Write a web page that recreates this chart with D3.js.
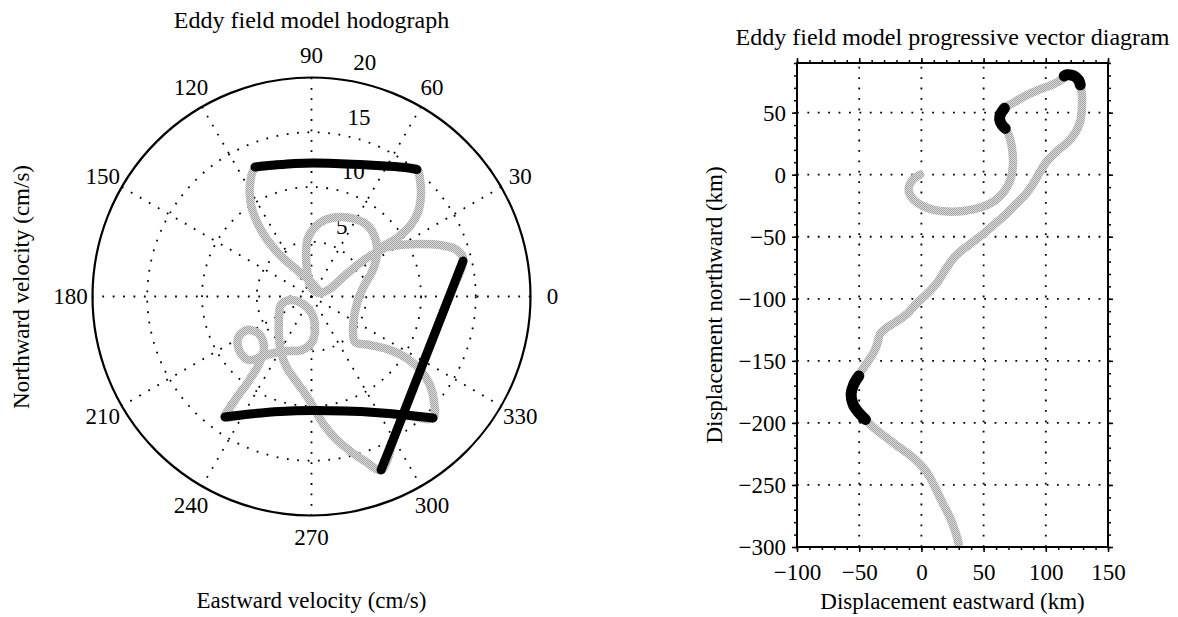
<!DOCTYPE html>
<html>
<head>
<meta charset="utf-8">
<script src="https://cdn.jsdelivr.net/npm/d3@7"></script>
<style>
  body { margin: 0; background: #fff; }
  text { font-family: "Liberation Serif", "Times New Roman", Times, serif; fill: #000; }
</style>
</head>
<body>
<svg id="fig" width="1178" height="617"></svg>
<script>
// ---------- Hodograph: eastward u, northward v (cm/s) ----------
const hodoTrack = [
  [0.59,0.59],[-0.14,1.42],[-1.32,2.42],[-2.88,3.79],[-4.16,5.34],[-4.98,6.80],[-5.52,8.36],[-5.62,10.18],
  [-5.16,11.73],[-3.33,12.01],[-1.51,12.15],[0.14,12.19],[2.15,12.15],[4.43,12.05],[6.71,11.92],[8.54,11.78],[9.63,11.64],
  [9.91,10.64],[10.0,9.27],[9.73,7.72],[9.0,6.44],[7.81,5.34],[6.53,4.52],
  [8.08,4.70],[9.91,4.79],[11.73,4.70],[13.1,4.34],[13.84,3.52],
  [12.56,-0.05],[11.28,-3.33],[10.09,-6.35],[8.81,-9.63],[7.63,-12.65],[6.35,-15.84],
  [4.98,-15.11],[3.52,-14.11],[2.24,-13.01],[1.14,-11.73],[0.32,-10.36],[-0.50,-8.99],[-1.42,-7.72],[-2.24,-6.53],
  [-2.79,-5.07],[-2.97,-3.52],[-2.97,-1.96],[-2.79,-0.78],[-1.96,-0.32],[-0.78,-0.68],[0.05,-1.60],[0.32,-2.88],
  [0.05,-4.16],[-0.87,-4.89],[-2.15,-4.98],[-3.42,-5.16],[-4.61,-5.52],[-5.71,-5.80],[-6.53,-5.07],[-6.71,-3.79],
  [-5.89,-3.06],[-4.79,-3.42],[-4.34,-4.70],[-4.89,-6.35],[-5.80,-7.81],[-6.80,-9.18],[-7.53,-10.27],[-7.90,-11.0],
  [-5.62,-10.73],[-2.88,-10.50],[0.14,-10.41],[3.06,-10.46],[5.80,-10.59],[8.54,-10.82],[11.10,-11.10],
  [11.19,-9.63],[10.82,-8.08],[10.0,-6.80],[8.81,-5.71],[7.17,-4.89],[5.34,-4.43],[3.97,-4.16],
  [3.79,-3.06],[3.97,-1.42],[4.34,-0.05],[4.89,1.14],[5.52,2.24],[5.89,3.33],[5.98,4.52],[5.71,5.62],
  [5.07,6.53],[3.97,7.08],[2.60,7.26],[1.23,6.99],[0.32,6.35],[-0.32,5.34],[-0.50,3.97],[-0.41,2.42],[-0.14,1.05],
  [0.59,0.32],[1.51,0.59],[2.60,1.51],[3.97,2.69],[5.34,3.70],[6.53,4.34]
];
// highlighted intervals of the hodograph
const hodoFast1 = [[-5.16,11.83],[-3.33,12.01],[-1.51,12.15],[0.14,12.19],[2.15,12.15],[4.43,12.05],[6.71,11.92],[8.54,11.78],[9.63,11.60]];
const hodoFast2 = [[13.84,3.24],[12.56,-0.05],[11.28,-3.33],[10.09,-6.35],[8.81,-9.63],[7.63,-12.65],[6.35,-15.84]];
const hodoFast3 = [[-7.90,-11.0],[-5.62,-10.73],[-2.88,-10.50],[0.14,-10.41],[3.06,-10.46],[5.80,-10.59],[8.54,-10.82],[11.10,-11.10]];

const ringValues = [5, 10, 15];
const ringLabels = ["5", "10", "15", "20"];
const rMax = 20;
const spokeAngles = [0, 30, 60, 90, 120, 150];
const angleLabels = [0, 30, 60, 90, 120, 150, 180, 210, 240, 270, 300, 330];

// ---------- Progressive vector diagram: displacement (km) ----------
const pvdTrack = [
  [-1,0],[-4.8,-2.2],[-8.3,-5.9],[-10.2,-10.8],[-9.4,-15.7],[-5.6,-20.8],[0.5,-24.9],[9.9,-28.4],[20.6,-29.7],
  [34,-29.2],[47.4,-26.5],[58.1,-21.6],[66.1,-14.1],[71.5,-4.1],[73.6,8.1],[72.8,21.6],[70.1,32.4],[67.4,37.3],
  [64.8,40],[62.9,44.6],[63.5,48.6],[66.7,53.5],
  [74.2,58.1],[83.5,63.5],[95.6,68.9],[106.3,73],[114.3,77.8],
  [117,80.5],[122.4,79.7],[126.4,76.2],[127.7,72.4],
  [129,64.9],[129,54.1],[127.7,43.2],[123.7,33.8],[117,25.7],[109,18.9],[100.9,10.8],[95.6,2.7],[90.2,-6.8],
  [83.5,-16.2],[75.5,-24.3],[67.5,-32.4],[58.1,-40.5],[48.7,-48.6],[38,-56.8],[27.3,-65.5],[19,-77],[12,-88],
  [4,-96.5],[-4,-104],[-11.5,-112.2],[-20.9,-118.9],[-27.6,-123],[-33,-128],[-35.6,-136.5],[-38.3,-143.2],
  [-43.6,-151.4],[-49,-159.5],
  [-50.3,-162.2],[-54.4,-168.9],[-56.5,-177],[-54.9,-185.1],[-50.3,-191.9],[-45,-197.3],
  [-38.3,-204],[-27.6,-212.2],[-16.9,-220.3],[-6.2,-228.4],[1.9,-236.5],[7.2,-244.6],[12.6,-255.4],[17.9,-266.2],
  [23.3,-277],[27.3,-287.8],[30,-297.3]
];
const pvdFast1 = [[67.4,37.3],[64.8,40],[62.9,44.6],[63.5,48.6],[66.7,53.5]];
const pvdFast2 = [[114.8,79.5],[117,80.5],[122.4,79.7],[126.4,76.2],[127.7,72.4]];
const pvdFast3 = [[-50.3,-162.2],[-54.4,-168.9],[-56.5,-177],[-54.9,-185.1],[-50.3,-191.9],[-45,-197.3]];

const xTicks = [-100, -50, 0, 50, 100, 150];
const yTicks = [-300, -250, -200, -150, -100, -50, 0, 50];

// ---------------------------------------------------------------
const SERIF = "'Liberation Serif', 'Times New Roman', serif";
const svg = d3.select("#fig");
const defs = svg.append("defs");
const pat = defs.append("pattern").attr("id", "stipple")
  .attr("width", 2).attr("height", 2).attr("patternUnits", "userSpaceOnUse");
pat.append("rect").attr("width", 2).attr("height", 2).attr("fill", "#dcdcdc");
pat.append("rect").attr("width", 1).attr("height", 1).attr("fill", "#a2a2a2");
pat.append("rect").attr("x", 1).attr("y", 1).attr("width", 1).attr("height", 1).attr("fill", "#a2a2a2");

const DOT = "1.8,8.6";
const FS = 23;

// ---------- polar hodograph ----------
const cx = 311.5, cy = 296.5, R = 219;
const rS = d3.scaleLinear().domain([0, rMax]).range([0, R]);
const hx = d3.scaleLinear().domain([-rMax, rMax]).range([cx - R, cx + R]);
const hy = d3.scaleLinear().domain([-rMax, rMax]).range([cy + R, cy - R]);
const polar = svg.append("g");

polar.append("circle").attr("cx", cx).attr("cy", cy).attr("r", R).attr("fill", "#fff");
polar.selectAll("circle.ring").data(ringValues).join("circle").attr("class", "ring")
  .attr("cx", cx).attr("cy", cy).attr("r", d => rS(d))
  .attr("fill", "none").attr("stroke", "#000").attr("stroke-width", 1.8).attr("stroke-dasharray", DOT);
polar.selectAll("line.spoke").data(spokeAngles).join("line").attr("class", "spoke")
  .attr("x1", a => hx(rMax * Math.cos(a * Math.PI / 180)))
  .attr("y1", a => hy(rMax * Math.sin(a * Math.PI / 180)))
  .attr("x2", a => hx(-rMax * Math.cos(a * Math.PI / 180)))
  .attr("y2", a => hy(-rMax * Math.sin(a * Math.PI / 180)))
  .attr("stroke", "#000").attr("stroke-width", 1.8).attr("stroke-dasharray", DOT);
polar.append("circle").attr("cx", cx).attr("cy", cy).attr("r", R)
  .attr("fill", "none").attr("stroke", "#000").attr("stroke-width", 2.2);

polar.selectAll("text.ang").data(angleLabels).join("text").attr("class", "ang")
  .attr("x", a => hx(1.1 * rMax * Math.cos(a * Math.PI / 180)))
  .attr("y", a => hy(1.1 * rMax * Math.sin(a * Math.PI / 180)))
  .attr("text-anchor", "middle").attr("dominant-baseline", "central")
  .attr("font-size", FS).text(a => a);

const ringLabelVals = [5, 10, 15, 20];
polar.selectAll("text.rl").data(ringLabelVals).join("text").attr("class", "rl")
  .attr("x", (d) => cx + 18 + rS(d + 0.7) * 0.105)
  .attr("y", (d) => cy - rS(d + 0.7))
  .attr("font-size", FS).text((d, i) => ringLabels[i]);

const hLine = d3.line().x(d => hx(d[0])).y(d => hy(d[1])).curve(d3.curveCatmullRom.alpha(0.5));
polar.append("path").attr("d", hLine(hodoTrack)).attr("fill", "none")
  .attr("stroke", "url(#stipple)").attr("stroke-width", 8.5)
  .attr("stroke-linecap", "round").attr("stroke-linejoin", "round");
[hodoFast1, hodoFast2, hodoFast3].forEach(seg => {
  polar.append("path").attr("d", hLine(seg)).attr("fill", "none")
    .attr("stroke", "#000").attr("stroke-width", 9)
    .attr("stroke-linecap", "round").attr("stroke-linejoin", "round");
});

svg.append("text").attr("x", cx).attr("y", 28).attr("text-anchor", "middle")
  .attr("font-size", 24).text("Eddy field model hodograph");
svg.append("text").attr("x", cx).attr("y", 608).attr("text-anchor", "middle")
  .attr("font-size", FS).text("Eastward velocity (cm/s)");
svg.append("text").attr("transform", "translate(29,287) rotate(-90)").attr("text-anchor", "middle")
  .attr("font-size", FS).text("Northward velocity (cm/s)");

// ---------- progressive vector diagram ----------
const L = 797, Rt = 1108, T = 63, B = 547;
const xS = d3.scaleLinear().domain([-100, 150]).range([L, Rt]);
const yS = d3.scaleLinear().domain([-300, 90]).range([B, T]);
const pvd = svg.append("g");

// dotted grid
pvd.selectAll("line.gx").data(xTicks.slice(1, -1)).join("line").attr("class", "gx")
  .attr("x1", d => xS(d)).attr("x2", d => xS(d)).attr("y1", B).attr("y2", T)
  .attr("stroke", "#000").attr("stroke-width", 1.8).attr("stroke-dasharray", DOT);
pvd.selectAll("line.gy").data(yTicks.slice(1)).join("line").attr("class", "gy")
  .attr("y1", d => yS(d)).attr("y2", d => yS(d)).attr("x1", L).attr("x2", Rt)
  .attr("stroke", "#000").attr("stroke-width", 1.8).attr("stroke-dasharray", DOT);

const pLine = d3.line().x(d => xS(d[0])).y(d => yS(d[1])).curve(d3.curveCatmullRom.alpha(0.5));
pvd.append("path").attr("d", pLine(pvdTrack)).attr("fill", "none")
  .attr("stroke", "url(#stipple)").attr("stroke-width", 8.5)
  .attr("stroke-linecap", "round").attr("stroke-linejoin", "round");
[pvdFast1, pvdFast2, pvdFast3].forEach(seg => {
  pvd.append("path").attr("d", pLine(seg)).attr("fill", "none")
    .attr("stroke", "#000").attr("stroke-width", 11)
    .attr("stroke-linecap", "round").attr("stroke-linejoin", "round");
});

// axes: major ticks with labels, minor ticks every 10 km, all pointing outward
const minorX = xS.ticks(25), minorY = yS.ticks(39);
function styleAxis(g) {
  g.attr("font-family", SERIF).attr("font-size", FS);
  g.select(".domain").remove();
  g.selectAll("line").attr("stroke", "#000").attr("stroke-width", 1.5);
  g.selectAll("text").attr("font-size", FS).attr("font-family", SERIF).attr("fill", "#000");
}
pvd.append("g").attr("transform", `translate(0,${B})`)
  .call(d3.axisBottom(xS).tickValues(minorX).tickSize(3).tickFormat("")).call(styleAxis);
pvd.append("g").attr("transform", `translate(0,${T})`)
  .call(d3.axisTop(xS).tickValues(minorX).tickSize(3).tickFormat("")).call(styleAxis);
pvd.append("g").attr("transform", `translate(${L},0)`)
  .call(d3.axisLeft(yS).tickValues(minorY).tickSize(3).tickFormat("")).call(styleAxis);
pvd.append("g").attr("transform", `translate(${Rt},0)`)
  .call(d3.axisRight(yS).tickValues(minorY).tickSize(3).tickFormat("")).call(styleAxis);

const bx = pvd.append("g").attr("transform", `translate(0,${B})`)
  .call(d3.axisBottom(xS).tickValues(xTicks).tickSize(5).tickPadding(12)).call(styleAxis);
bx.selectAll("text").attr("dy", "0.71em");
pvd.append("g").attr("transform", `translate(0,${T})`)
  .call(d3.axisTop(xS).tickValues(xTicks).tickSize(5).tickFormat("")).call(styleAxis);
pvd.append("g").attr("transform", `translate(${L},0)`)
  .call(d3.axisLeft(yS).tickValues(yTicks).tickSize(5).tickPadding(6)).call(styleAxis);
pvd.append("g").attr("transform", `translate(${Rt},0)`)
  .call(d3.axisRight(yS).tickValues(yTicks).tickSize(5).tickFormat("")).call(styleAxis);

pvd.append("rect").attr("x", L).attr("y", T).attr("width", Rt - L).attr("height", B - T)
  .attr("fill", "none").attr("stroke", "#000").attr("stroke-width", 2);

svg.append("text").attr("x", (L + Rt) / 2).attr("y", 45).attr("text-anchor", "middle")
  .attr("font-size", 24).text("Eddy field model progressive vector diagram");
svg.append("text").attr("x", (L + Rt) / 2).attr("y", 609).attr("text-anchor", "middle")
  .attr("font-size", FS).text("Displacement eastward (km)");
svg.append("text").attr("transform", `translate(722,${(T + B) / 2}) rotate(-90)`).attr("text-anchor", "middle")
  .attr("font-size", FS).text("Displacement northward (km)");
</script>
</body>
</html>
